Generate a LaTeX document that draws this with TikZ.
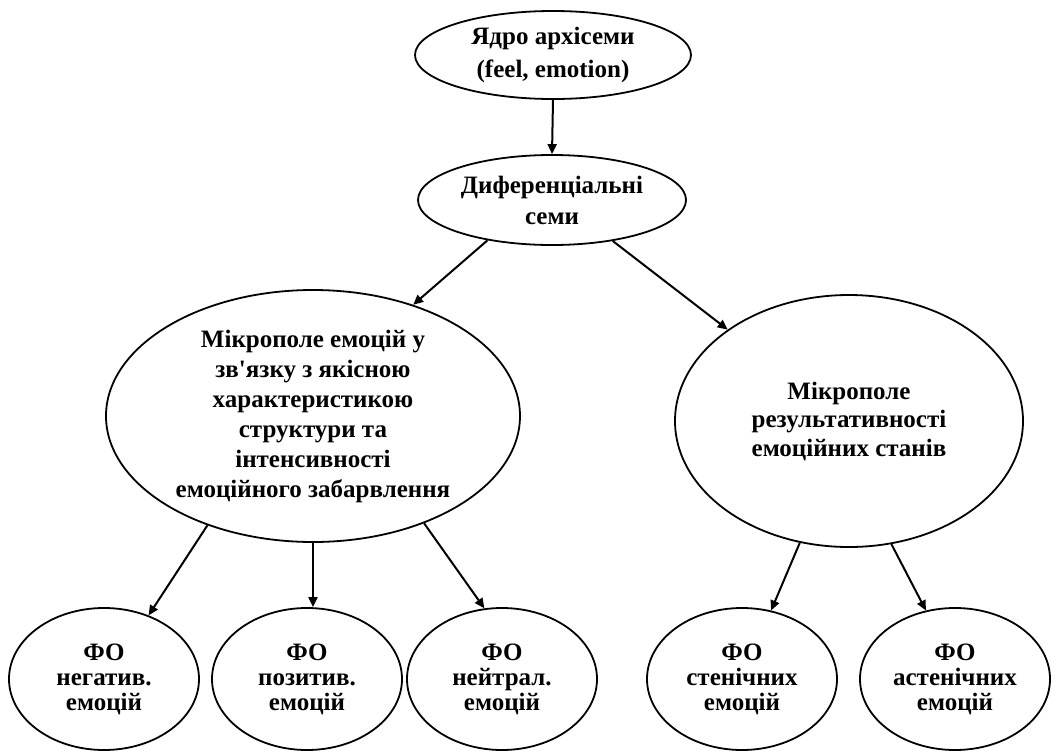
\documentclass[tikz,border=0pt]{standalone}
\usepackage{fontspec}
\setmainfont{Liberation Serif}
\newfontfamily\plainser{Liberation Serif}
\usetikzlibrary{shapes.geometric,arrows.meta}
\tikzset{
  ell/.style={ellipse, draw, line width=1.8pt, inner sep=0pt, align=center, font=\bfseries\fontsize{25}{31}\selectfont},
  arr/.style={line width=2pt, -{Triangle[length=10pt,width=9pt]}}
}
\newcommand{\straightapos}{{\plainser\bfseries\char"0027}}
\begin{document}
\begin{tikzpicture}[x=1pt,y=-1pt]
\useasboundingbox (0,0) rectangle (1055,750);
\node[ell, minimum width=276pt, minimum height=88pt, font=\bfseries\fontsize{25}{33}\selectfont] (top) at (553,55) {Ядро архісеми\\(feel, emotion)};
\node[ell, minimum width=268pt, minimum height=90pt] (diff) at (552,200) {Диференціальні\\семи};
\node[ell, minimum width=414pt, minimum height=252pt, font=\bfseries\fontsize{25}{30}\selectfont] (left) at (313,416) {Мікрополе емоцій у\\зв\straightapos язку з якісною\\характеристикою\\структури та\\інтенсивності\\емоційного забарвлення};
\node[ell, minimum width=348pt, minimum height=252pt, font=\bfseries\fontsize{25}{28.5}\selectfont] (right) at (849,421) {Мікрополе\\результативності\\емоційних станів};
\tikzset{bot/.style={ell, minimum width=190pt, minimum height=142pt, font=\bfseries\fontsize{25}{25}\selectfont}}
\node[bot] (b1) at (104,679) {ФО\\негатив.\\емоцій};
\node[bot] (b2) at (307,679) {ФО\\позитив.\\емоцій};
\node[bot] (b3) at (502,679) {ФО\\нейтрал.\\емоцій};
\node[bot] (b4) at (742,679) {ФО\\стенічних\\емоцій};
\node[bot] (b5) at (955,679) {ФО\\астенічних\\емоцій};
\draw[arr] (top.south) -- (diff.north);
\draw[arr] (diff.212.8) -- (left.48.6);
\draw[arr] (diff.-34.6) -- (right.143.6);
\draw[arr] (left.226.3) -- (b1.55);
\draw[arr] (left.south) -- (left.south |- b2.north);
\draw[arr] (left.-44) -- (b3.104.4);
\draw[arr] (right.248.6) -- (b4.67.6);
\draw[arr] (right.-71.8) -- (b5.113.8);
\end{tikzpicture}
\end{document}
